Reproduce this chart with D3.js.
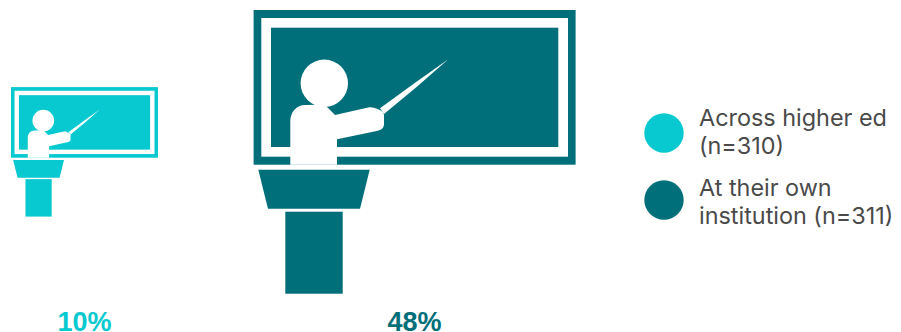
<!DOCTYPE html>
<html>
<head>
<meta charset="utf-8">
<script src="https://cdn.jsdelivr.net/npm/d3@7"></script>
<style>
html, body { margin: 0; padding: 0; background: #fff; }
svg { display: block; }
</style>
</head>
<body>
<div id="chart"></div>
<script>
const categories = ["Across higher ed", "At their own institution"];
const values = [10, 48];
const valueLabels = ["10%", "48%"];
const legendLines = [["Across higher ed", "(n=310)"], ["At their own", "institution (n=311)"]];
const colors = ["#08c9cf", "#006f79"];

const width = 901, height = 332;
const iconBaseWidth = 322;

const svg = d3.select("#chart").append("svg")
  .attr("width", width)
  .attr("height", height);

// Icon area is proportional to the value, so width follows a square-root scale.
const size = d3.scaleSqrt().domain([0, 48]).range([0, iconBaseWidth]);
const x = d3.scalePoint().domain(categories).range([84.5, 414.6]);
const iconCenterY = 151.85;

// Teacher at a board, outlined around the icon's centre at full size.
function drawIcon(g, color) {
  const rect = (x0, y0, x1, y1, fill) => g.append("rect")
    .attr("x", x0).attr("y", y0)
    .attr("width", x1 - x0).attr("height", y1 - y0)
    .attr("fill", fill);

  rect(-161, -141.85, 161, 12.85, color);
  rect(-153.3, -133.85, 153.4, 4.85, "#fff");
  rect(-143.6, -124.15, 143.7, -4.85, color);

  g.append("circle").attr("cx", -90.3).attr("cy", -68.55).attr("r", 23.7).attr("fill", "#fff");

  g.append("path").attr("fill", "#fff").attr("d",
    "M-124.3 12.85 V-30.2 C-124.3 -40 -118 -46.85 -109.6 -46.85 " +
    "L-94 -47 C-90 -47 -87.3 -44.5 -87.3 -44.5 L-79.6 -36.85 " +
    "L-45.3 -44.5 C-40 -45 -30.6 -41 -30.6 -36.85 L-30.6 -27.85 " +
    "C-30.6 -24 -33 -21.8 -37.9 -20.85 L-77.6 -12.5 V12.85 Z");

  // Pointer tapers to a fine tip.
  g.append("path").attr("fill", "#fff")
    .attr("d", "M-34.6 -43.55 Q0 -69 33.7 -92.55 Q2 -64 -30.6 -37.85 Z");

  g.append("path").attr("fill", color)
    .attr("d", "M-156.3 17.85 H-44.9 L-54.6 56.85 H-146.6 Z");

  rect(-129.3, 59.85, -71.9, 141.85, color);
}

categories.forEach((c, i) => {
  const k = size(values[i]) / iconBaseWidth;
  const g = svg.append("g")
    .attr("transform", `translate(${x(c)},${iconCenterY}) scale(${k})`);
  drawIcon(g, colors[i]);

  svg.append("text")
    .attr("x", x(c))
    .attr("y", 330.5)
    .attr("text-anchor", "middle")
    .attr("font-family", "'Liberation Sans', Arial, sans-serif")
    .attr("font-weight", 700)
    .attr("font-size", 27)
    .attr("fill", colors[i])
    .text(valueLabels[i]);
});

// Legend: a swatch beside a two-line label.
const swatchY = d3.scalePoint().domain(categories).range([133, 200]);
const labelY = d3.scalePoint().domain(categories).range([125.8, 196.2]);
const lineHeight = 28;

const legend = svg.selectAll("g.legend").data(categories).join("g")
  .attr("class", "legend");

legend.append("circle")
  .attr("cx", 664)
  .attr("cy", d => swatchY(d))
  .attr("r", 19.7)
  .attr("fill", (d, i) => colors[i]);

legend.append("text")
  .attr("font-family", "Inter, sans-serif")
  .attr("font-size", 23.4)
  .attr("fill", "#4a4a4a")
  .each(function (d, i) {
    d3.select(this).selectAll("tspan")
      .data(legendLines[i])
      .join("tspan")
      .attr("x", 699)
      .attr("y", (line, j) => labelY(d) + j * lineHeight)
      .text(line => line);
  });
</script>
</body>
</html>
